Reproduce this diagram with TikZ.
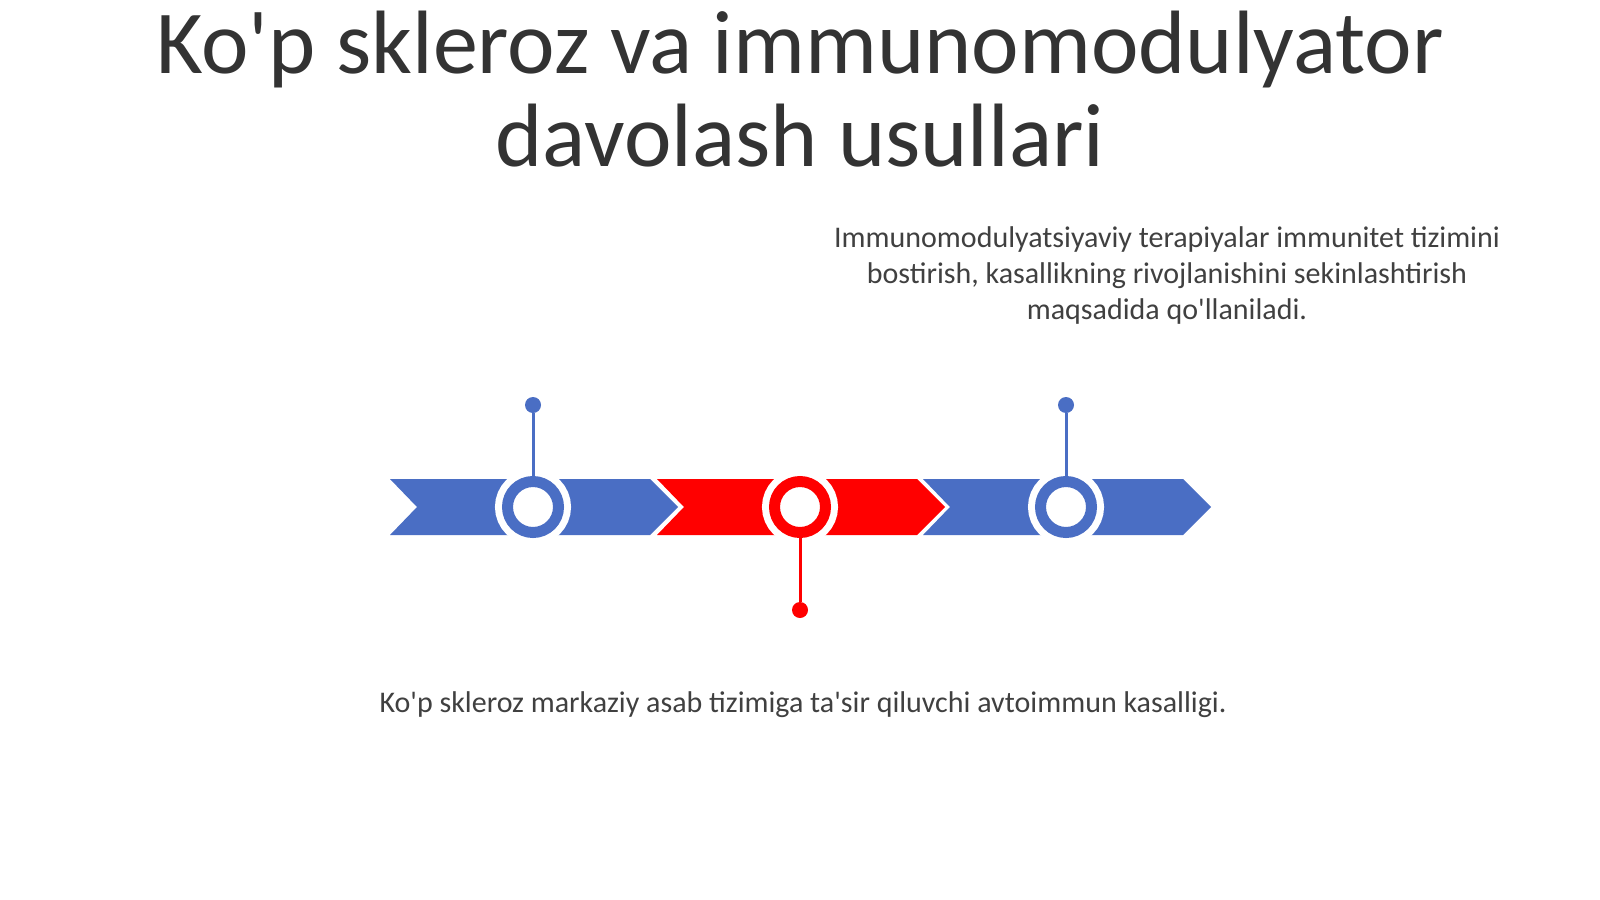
\documentclass[tikz,border=0pt]{standalone}
\usepackage{fontspec}
\setmainfont{Carlito}
\definecolor{tlblue}{HTML}{4A6EC4}
\definecolor{tlred}{HTML}{FF0000}
\definecolor{txtgray}{HTML}{404040}
\definecolor{ttlgray}{HTML}{333333}
\begin{document}
\begin{tikzpicture}[x=1pt,y=-1pt,
  ring/.style={circle, minimum size=51pt, inner sep=0pt, line width=11pt,
    draw=#1, fill=white, preaction={draw=white, line width=25pt}},
  dot/.style={circle, fill=#1, minimum size=16pt, inner sep=0pt},
  stem/.style={#1, line width=3pt},
  bodytext/.style={text=txtgray, font=\fontsize{30}{36}\selectfont, align=center, inner sep=0pt}]
  \useasboundingbox[fill=white] (0,0) rectangle (1600,899);
  % title
  \node[text=ttlgray, font=\fontsize{90}{93}\selectfont, align=center, inner sep=0pt, anchor=base] (title) at (800,166)
    {Ko\textquotesingle p skleroz va immunomodulyator\\davolash usullari};
  \node[bodytext, anchor=base] (note) at (1167,319)
    {Immunomodulyatsiyaviy terapiyalar immunitet tizimini\\bostirish, kasallikning rivojlanishini sekinlashtirish\\maqsadida qo\textquotesingle llaniladi.};
  % timeline arrows
  \foreach \x/\c in {390/tlblue, 657/tlred, 923/tlblue}
    \fill[\c] (\x,479) -- ++(260,0) -- ++(28,28) -- ++(-28,28) -- ++(-260,0) -- ++(27,-28) -- cycle;
  \node[ring=tlblue] (c1) at (533,507) {};
  \node[ring=tlred] (c2) at (800,507) {};
  \node[ring=tlblue] (c3) at (1066,507) {};
  \node[dot=tlblue] (d1) at (533,405) {};
  \node[dot=tlred] (d2) at (800,610) {};
  \node[dot=tlblue] (d3) at (1066,405) {};
  \draw[stem=tlblue] (d1) -- (c1);
  \draw[stem=tlred] (d2) -- (c2);
  \draw[stem=tlblue] (d3) -- (c3);
  \node[bodytext, anchor=base] (caption) at (803,712)
    {Ko\textquotesingle p skleroz markaziy asab tizimiga ta\textquotesingle sir qiluvchi avtoimmun kasalligi.};
\end{tikzpicture}
\end{document}
